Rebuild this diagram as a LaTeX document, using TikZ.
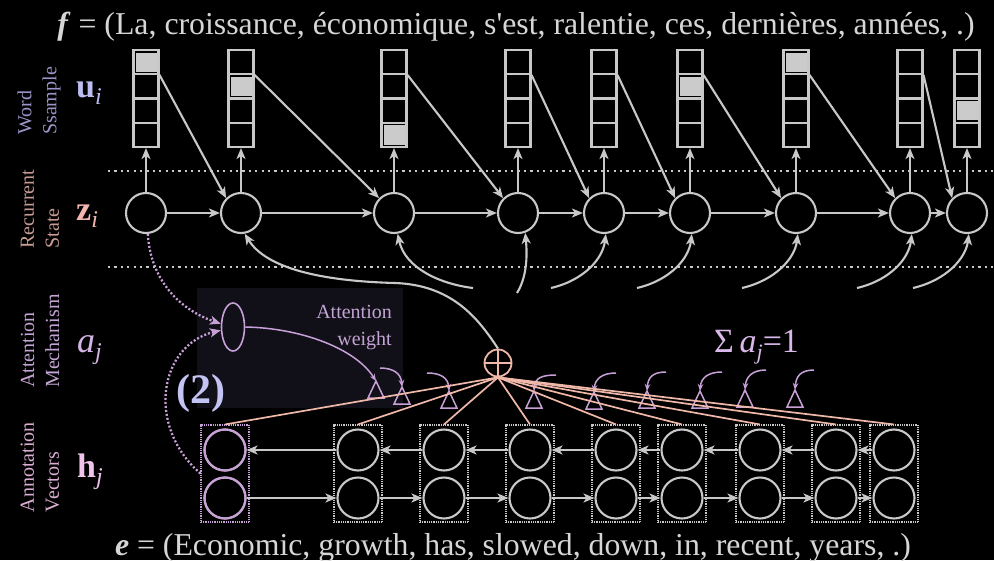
\documentclass[tikz,border=0pt]{standalone}
\usepackage{fontspec}
\setmainfont{Liberation Serif}
\usetikzlibrary{arrows.meta,calc,shapes.geometric}
\definecolor{lg}{HTML}{C8C8C8}
\definecolor{txtc}{HTML}{D6D6D6}
\definecolor{lav}{HTML}{C8A0D8}
\definecolor{peach}{HTML}{F0B8A8}
\definecolor{attbg}{HTML}{111018}
\definecolor{lblA}{HTML}{9A94C8}
\definecolor{colU}{HTML}{BDBDF2}
\definecolor{lblB}{HTML}{C89C94}
\definecolor{colZ}{HTML}{F2B6AE}
\definecolor{lblC}{HTML}{C4A4D4}
\definecolor{colA}{HTML}{D4B4E4}
\definecolor{lblD}{HTML}{DCAED4}
\definecolor{colH}{HTML}{F0C4EA}
\definecolor{colTwo}{HTML}{C4C4F4}
\definecolor{colSig}{HTML}{DAB8EA}
\newcommand{\fsz}[1]{\fontsize{#1}{#1}\selectfont}
\begin{document}
\begin{tikzpicture}[x=1pt,y=-1pt,
  gl/.style={draw=lg,line width=2.1pt},
  garr/.style={gl,-{Stealth[length=11pt,width=9pt,inset=3pt]}},
  wbox/.style={rectangle,draw=lg,line width=2.1pt,minimum width=25pt,minimum height=97pt,inner sep=0pt},
  zc/.style={circle,draw=lg,line width=2.1pt,minimum size=40pt,inner sep=0pt},
  hbox/.style={rectangle,draw=lg,line width=1.1pt,dash pattern=on 0.9pt off 0.9pt,minimum width=48pt,minimum height=97pt,inner sep=0pt},
  hc/.style={circle,draw=lg,line width=2.1pt,minimum size=41pt,inner sep=0pt},
  sepline/.style={draw=lg,line width=2.2pt,dash pattern=on 2.2pt off 4.2pt},
  pdash/.style={draw=lav,line width=2.3pt,dash pattern=on 2pt off 2pt,-{Stealth[length=11pt,width=9pt,inset=3pt]}},
  lavl/.style={draw=lav,line width=1.5pt},
  lavarr/.style={lavl,-{Stealth[length=7pt,width=5.5pt]}},
  peachl/.style={draw=peach,line width=1.7pt},
  side/.style={rotate=90,align=left,inner sep=0pt,font={\fontsize{20}{25}\selectfont}},
  sym/.style={anchor=base west,inner sep=0pt}
]
\fill[black] (0,0) rectangle (994,560);
\useasboundingbox (0,0) rectangle (994,560);

% attention background
\fill[attbg] (197,288) rectangle (403,408);

% titles
\node[anchor=base,text=txtc,inner sep=0pt,font=\fsz{31.8}] (ftxt) at (516,34)
  {\textbf{\textit{f}} = (La, croissance, économique, s\textquotesingle est, ralentie, ces, dernières, années, .)};
\node[anchor=base,text=txtc,inner sep=0pt,font=\fsz{31.8}] (etxt) at (513,555)
  {\textbf{\textit{e}} = (Economic, growth, has, slowed, down, in, recent, years, .)};

% side labels
\node[side,text=lblA] (lw) at (39,101) {Word\\Ssample};
\node[side,text=lblB] (lr) at (40,209) {Recurrent\\State};
\node[side,text=lblC] (la) at (40,341) {Attention\\Mechanism};
\node[side,text=lblD] (lh) at (40,467) {Annotation\\Vectors};
\node[sym,text=colU] (su) at (76,97) {\fsz{34}\textbf{u}\raisebox{-7pt}{\fsz{24}\textit{i}}};
\node[sym,text=colZ] (sz) at (76,220) {\fsz{34}\textbf{z}\raisebox{-7pt}{\fsz{24}\textit{i}}};
\node[sym,text=colA] (sa) at (77,352) {\fsz{36}\textit{a}\raisebox{-7pt}{\fsz{24}\textit{j}}};
\node[sym,text=colH] (sh) at (77,477) {\fsz{34}\textbf{h}\raisebox{-7pt}{\fsz{24}\textit{j}}};

% separators
\draw[sepline] (108,171) -- (994,171);
\draw[sepline] (108,267) -- (994,267);

% word sample boxes and recurrent states
\foreach \i/\x/\f in {1/146/1,2/241/2,3/394/4,4/518/0,5/604/0,6/690/2,7/796/1,8/910/0,9/967/3}{
  \ifnum\f>0 \fill[lg!95!white] ({\x-10.5},{50+24.25*(\f-1)+2.5}) rectangle ({\x+10.5},{50+24.25*\f-2.5}); \fi
  \node[wbox] (u\i) at (\x,98.5) {};
  \foreach \k in {1,2,3} \draw[gl] ({\x-12.5},{50+24.25*\k}) -- ({\x+12.5},{50+24.25*\k});
  \node[zc] (z\i) at (\x,213) {};
  \draw[garr] (z\i) -- (u\i);
}
\foreach \i/\j in {1/2,2/3,3/4,4/5,5/6,6/7,7/8,8/9}{
  \draw[garr] (z\i) -- (z\j);
  \draw[garr] ($(u\i.north east)+(0,26)$) -- (z\j.135);
}

% annotation vectors
\foreach \i/\x in {1/225,2/358,3/444,4/530,5/616,6/682,7/760,8/836,9/894}{
  \node[hbox] (hb\i) at (\x,473.5) {};
  \node[hc] (ht\i) at (\x,450) {};
  \node[hc] (hl\i) at (\x,498) {};
}
\node[hbox,draw=lav] at (hb1) {};
\node[hc,draw=lav] at (ht1) {};
\node[hc,draw=lav] at (hl1) {};
\foreach \i/\j in {1/2,2/3,3/4,4/5,5/6,6/7,7/8,8/9}{
  \draw[garr] (ht\j) -- (ht\i);
  \draw[garr] (hl\i) -- (hl\j);
}

% plus node
\node[circle,draw=peach,line width=1.8pt,minimum size=27pt,inner sep=0pt] (plus) at (498,363) {};
\draw[draw=peach,line width=1.6pt] (plus.north) -- (plus.south) (plus.west) -- (plus.east);

% context curves into states
\draw[garr] (plus.north) .. controls (478,318) and (452,285) .. (395,283)
  .. controls (320,281) and (266,268) .. (z2.-80);
\coordinate (c3) at (473,288);
\coordinate (c4) at (517,293);
\coordinate (c5) at (551,288);
\coordinate (c6) at (637,288);
\coordinate (c7) at (742,288);
\coordinate (c8) at (857,288);
\coordinate (c9) at (913,288);
\draw[garr] (c3) .. controls (440,284) and (405,268) .. (z3.-80);
\draw[garr] (c4) .. controls (525,280) and (528,262) .. (z4.-70);
\foreach \i in {5,6,7,8,9}
  \draw[garr] (c\i) .. controls +(34,-8) and +(-3,24) .. (z\i.-85);

% attention mechanism
\node[ellipse,draw=lav,line width=1.6pt,minimum width=23pt,minimum height=48pt,inner sep=0pt] (att) at (233,327) {};
\draw[pdash] (z1.-85) .. controls (150,275) and (175,308) .. (att.165);
\draw[pdash] (hb1.west) .. controls (145,425) and (160,345) .. (att.195);
\node[anchor=north east,align=right,text=lblC,inner sep=0pt,font={\fontsize{20}{27}\selectfont}] (aw) at (392,305) {Attention\\weight};
\node[text=colTwo,font={\fsz{42}\bfseries},inner sep=0pt] (two) at (201,393) {(2)};
\node[sym,text=colSig] (sig) at (714,352) {\fsz{34}Σ\,\textit{a}\raisebox{-7pt}{\fsz{22}\textit{j}}=1};

% gates
\foreach \n/\xa/\ya in {1/376/381,2/402/387,3/449/391,4/534/391,5/594/392,6/647/391,7/700/391,8/745/390,9/795/390}{
  \coordinate (g\n) at (\xa,\ya);
  \draw[lavl] (g\n) -- ++(-8,17) -- ++(16,0) -- cycle;
}
\draw[lavarr] (att.east) .. controls (300,328) and (355,348) .. (g1);
\foreach \n/\xs/\ys in {2/380/368,3/427/373}{
  \coordinate (hk\n) at (\xs,\ys);
  \draw[lavarr] (hk\n) .. controls +(14,0) and +(-1,-13) .. (g\n);
}
\foreach \n/\xs/\ys in {4/556/375,5/616/373,6/666/372,7/722/372,8/766/370,9/814/370}{
  \coordinate (hk\n) at (\xs,\ys);
  \draw[lavarr] (hk\n) .. controls +(-14,0) and +(1,-13) .. (g\n);
}

% annotation to plus
\foreach \i in {1,...,9} \draw[peachl] (hb\i.north) -- (plus.south);
\end{tikzpicture}
\end{document}
